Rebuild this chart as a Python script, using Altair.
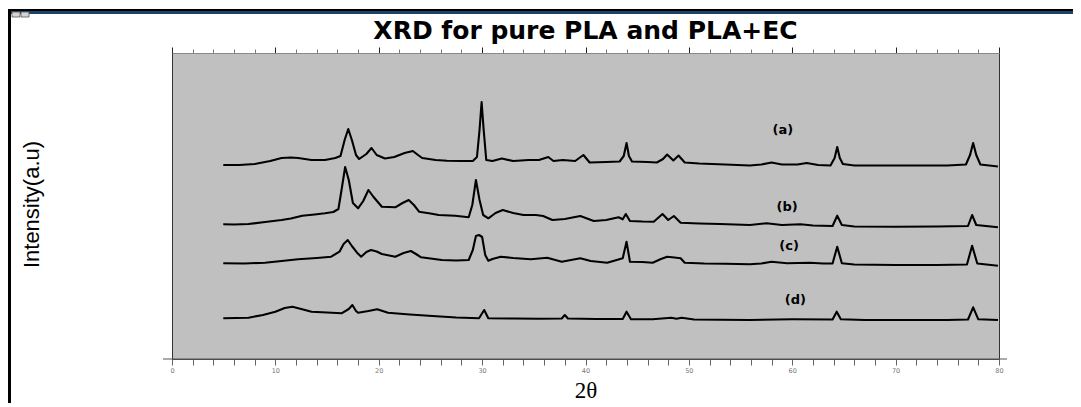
import altair as alt
import pandas as pd

# ---- data (2theta in degrees, intensity in a.u. incl. stacking offset) ----
theta_a = [4.96, 6.5, 8.0, 9.5, 10.6, 11.5, 12.2, 13.5, 14.8, 15.8, 16.3, 16.7, 17.05, 17.4, 17.8, 18.1,
           18.8, 19.3, 19.8, 20.6, 21.5, 22.5, 23.3, 23.8, 24.2, 25.5, 26.6, 28.0, 29.1, 29.5, 29.75,
           29.95, 30.15, 30.4, 31.0, 31.9, 33.0, 34.5, 35.5, 36.4, 36.9, 37.8, 39.0, 39.8, 40.4, 42.0,
           43.3, 43.7, 43.97, 44.2, 44.5, 46.0, 46.9, 47.5, 47.9, 48.5, 49.0, 49.6, 51.0, 53.5, 55.9,
           57.0, 58.0, 59.0, 60.5, 61.4, 62.5, 63.7, 64.1, 64.35, 64.6, 64.9, 66.0, 70.0, 75.0, 76.8,
           77.2, 77.5, 77.8, 78.2, 79.9]
int_a = [194, 194, 195, 198, 201, 201.5, 201, 199, 199, 201, 203, 219, 230, 219, 204, 200,
         205, 211, 204, 200.5, 202, 206, 208, 204, 201, 199, 198.3, 198, 198, 202, 229,
         257, 229, 199, 198, 200.5, 198, 199, 199, 202, 198, 199, 198, 204, 196.5, 197,
         197.5, 203, 216, 203, 197.5, 197, 196.5, 200, 204.5, 198.5, 203.5, 196.5, 195.5, 194.5, 193.5,
         194.5, 196.5, 194.5, 194.5, 196, 194, 193.5, 201, 212, 201, 195, 193.5, 193.5, 193.5, 194.5,
         204, 216, 204, 194.5, 192.5]

theta_b = [4.96, 6.0, 7.4, 9.0, 10.6, 11.5, 12.6, 13.8, 14.8, 15.6, 16.1, 16.4, 16.75, 17.1, 17.5, 18.0,
           18.5, 19.0, 19.5, 20.3, 21.6, 22.3, 22.9, 23.4, 23.9, 25.0, 25.8, 27.4, 28.7, 29.05, 29.4,
           29.75, 30.1, 30.6, 31.3, 32.0, 33.0, 34.0, 35.2, 35.9, 36.8, 38.0, 39.5, 40.8, 42.0, 43.2,
           43.6, 43.9, 44.3, 45.5, 46.6, 47.45, 48.0, 48.55, 49.2, 51.0, 53.0, 55.9, 57.5, 59.0, 60.8,
           62.0, 63.9, 64.35, 64.8, 66.0, 70.0, 74.0, 77.0, 77.4, 77.8, 79.9]
int_b = [134.7, 134.5, 135, 137, 139, 140.5, 143.3, 144.5, 145.7, 147, 150, 169, 192, 179, 156, 150.7,
         158, 169, 162, 152.3, 151.7, 156, 159, 154, 147.3, 145.5, 144, 143.3, 141.7, 154, 179,
         159, 144, 140.7, 146, 149, 146, 144, 144, 143, 139, 140, 143, 138, 139, 141.7,
         139.7, 145, 138, 137.5, 137.3, 145, 139, 143, 136.3, 135.5, 135, 134, 135.7, 134, 134.7,
         133.5, 133, 143.3, 134, 132.5, 132.3, 132.5, 133, 144, 134, 131.7]

theta_c = [4.96, 7.0, 9.0, 10.6, 12.2, 14.0, 15.4, 16.2, 16.6, 17.0, 17.4, 17.9, 18.3, 18.8, 19.25, 19.8,
           20.3, 21.6, 22.4, 23.1, 23.6, 24.1, 25.0, 26.1, 27.5, 28.7, 29.1, 29.4, 29.7, 30.0, 30.3,
           30.6, 31.0, 31.8, 33.0, 34.7, 36.3, 37.7, 39.5, 40.5, 42.1, 43.6, 43.97, 44.3, 45.5, 46.5,
           47.3, 47.9, 48.6, 49.2, 49.6, 51.5, 53.5, 55.9, 57.0, 58.0, 59.5, 61.7, 63.0, 63.9, 64.35,
           64.8, 66.0, 70.0, 74.0, 76.9, 77.4, 77.9, 79.9]
int_c = [95.7, 95.5, 96.3, 98, 99.7, 101, 102.3, 107.3, 115, 119, 113, 106.3, 102.3, 107, 109, 107.5,
         105, 102.3, 106, 108, 105, 101.7, 100.5, 99, 98.5, 99, 109, 123, 124, 122, 104,
         98.3, 100, 102.3, 101, 99.7, 101.3, 97.3, 100.7, 98, 96.3, 100.7, 117.3, 97.3, 97, 96.3,
         100, 102.3, 101.5, 100.7, 96.3, 95.5, 95.2, 94.7, 95.5, 97.3, 95.7, 96.3, 95.5, 95.5, 112.3,
         95.7, 94.5, 94, 94, 94.5, 113.3, 95.5, 93.3]

theta_d = [4.96, 6.2, 7.4, 8.8, 10.0, 10.9, 11.65, 12.5, 13.5, 15.0, 16.4, 17.1, 17.45, 17.8, 18.0, 19.0,
           19.85, 20.9, 23.0, 25.2, 27.5, 29.7, 30.2, 30.6, 33.0, 35.5, 37.7, 38.0, 38.3, 41.0, 43.6,
           43.97, 44.4, 46.5, 48.3, 48.8, 49.3, 50.5, 53.0, 55.9, 60.0, 63.9, 64.3, 64.7, 67.0, 71.0,
           75.0, 77.0, 77.5, 78.0, 79.9]
int_d = [40.7, 41, 41.3, 44, 47.3, 51, 52.3, 50, 47.3, 46.5, 45.7, 50, 54, 48, 46.3, 48,
         49.7, 46.3, 44.5, 43, 41.5, 40.7, 49, 40.7, 40.5, 40.2, 40.5, 44, 40.5, 40, 40,
         47.3, 39.7, 39.8, 41.3, 40.3, 41.3, 39.5, 39.2, 39, 39.7, 39.5, 47.3, 39.7, 39, 39,
         39, 39.5, 51.7, 39.7, 39]

label_text = ["(a)", "(b)", "(c)", "(d)"]
label_theta = [59.1, 59.5, 59.7, 60.3]
label_int = [229, 152, 113, 59]

x_ticks = list(range(0, 81, 2))
chart_title = "XRD for pure PLA and PLA+EC"

# ---- tables ----
rows = []
for name, th, it in [("a", theta_a, int_a), ("b", theta_b, int_b),
                     ("c", theta_c, int_c), ("d", theta_d, int_d)]:
    for i, (t, v) in enumerate(zip(th, it)):
        rows.append({"sample": name, "theta": t, "intensity": v, "order": i})
df = pd.DataFrame(rows)
lab_df = pd.DataFrame({"label": label_text, "theta": label_theta, "intensity": label_int})
one = pd.DataFrame({"k": [0]})
title_df = pd.DataFrame({"t": [chart_title]})

x_scale = alt.Scale(domain=[0, 80], nice=False, zero=False)
y_scale = alt.Scale(domain=[0, 306], nice=False, zero=False)

lines = alt.Chart(df).mark_line(color="black", strokeWidth=2.1, strokeJoin="round").encode(
    x=alt.X("theta:Q", scale=x_scale,
            axis=alt.Axis(orient="bottom", values=x_ticks,
                          labelExpr="datum.value % 10 == 0 ? datum.label : ''",
                          tickSize=6, tickColor="#666", domainColor="#444", grid=False,
                          labelFontSize=6.5, labelColor="#777", labelPadding=2, labelFlush=False,
                          labelFont="DejaVu Sans",
                          title="2θ", titleFont="Liberation Serif", titleFontSize=23,
                          titleFontWeight="normal", titleColor="black",
                          titleY=38, titleBaseline="alphabetic")),
    y=alt.Y("intensity:Q", scale=y_scale,
            axis=alt.Axis(orient="left", ticks=False, labels=False, domainColor="#333", grid=False,
                          title="Intensity(a.u)", titleFont="Liberation Sans",
                          titleFontSize=22, titleFontWeight="normal", titleColor="black",
                          titleAngle=-90, titleX=-134, titleY=151, titleAlign="center",
                          titleBaseline="alphabetic")),
    detail="sample:N",
    order="order:Q",
)

labels = alt.Chart(lab_df).mark_text(font="DejaVu Sans", fontWeight="bold", fontSize=13,
                                     color="black").encode(
    x=alt.X("theta:Q", scale=x_scale,
            axis=alt.Axis(orient="top", values=x_ticks, labels=False, grid=False,
                          tickSize={"condition": {"test": "datum.value % 10 == 0", "value": 6}, "value": 4},
                          tickColor={"condition": {"test": "datum.value % 10 == 0", "value": "#222"}, "value": "#777"},
                          domainColor="#888", title="")),
    y=alt.Y("intensity:Q", scale=y_scale, axis=None),
    text="label:N",
)

title_mark = alt.Chart(title_df).mark_text(font="DejaVu Sans", fontWeight="bold", fontSize=25,
                                           color="black", align="center",
                                           baseline="alphabetic").encode(
    x=alt.value(413.5), y=alt.value(-14), text="t:N")

# window-frame decorations and axis extension
bar_black = alt.Chart(one).mark_rule(color="#000000", strokeWidth=2).encode(
    x=alt.value(-162), x2=alt.value(910), y=alt.value(-43))
bar_blue = alt.Chart(one).mark_rule(color="#1d4266", strokeWidth=3).encode(
    x=alt.value(-162), x2=alt.value(910), y=alt.value(-40.5))
left_border = alt.Chart(one).mark_rule(color="#000000", strokeWidth=3).encode(
    x=alt.value(-162.5), y=alt.value(-44), y2=alt.value(360))
icon1 = alt.Chart(one).mark_rect(fill="#d4d4d4", stroke="#555", strokeWidth=0.8).encode(
    x=alt.value(-160), x2=alt.value(-152), y=alt.value(-41), y2=alt.value(-36))
icon2 = alt.Chart(one).mark_rect(fill="#d4d4d4", stroke="#555", strokeWidth=0.8).encode(
    x=alt.value(-151), x2=alt.value(-143), y=alt.value(-41), y2=alt.value(-36))
axis_ext = alt.Chart(one).mark_rule(color="#555", strokeWidth=1).encode(
    x=alt.value(-9), x2=alt.value(835), y=alt.value(306))

chart = alt.layer(
    axis_ext, lines, labels, title_mark, bar_black, bar_blue, left_border, icon1, icon2
).resolve_axis(x="independent", y="independent").properties(
    width=827, height=306,
    autosize=alt.AutoSizeParams(type="none"),
    padding={"left": 164, "top": 45, "right": 74, "bottom": 44},
    background="white",
).configure_view(fill="#c0c0c0", stroke="#333", strokeWidth=1)

chart.save("out.html", embed_options={"renderer": "svg", "actions": False})
